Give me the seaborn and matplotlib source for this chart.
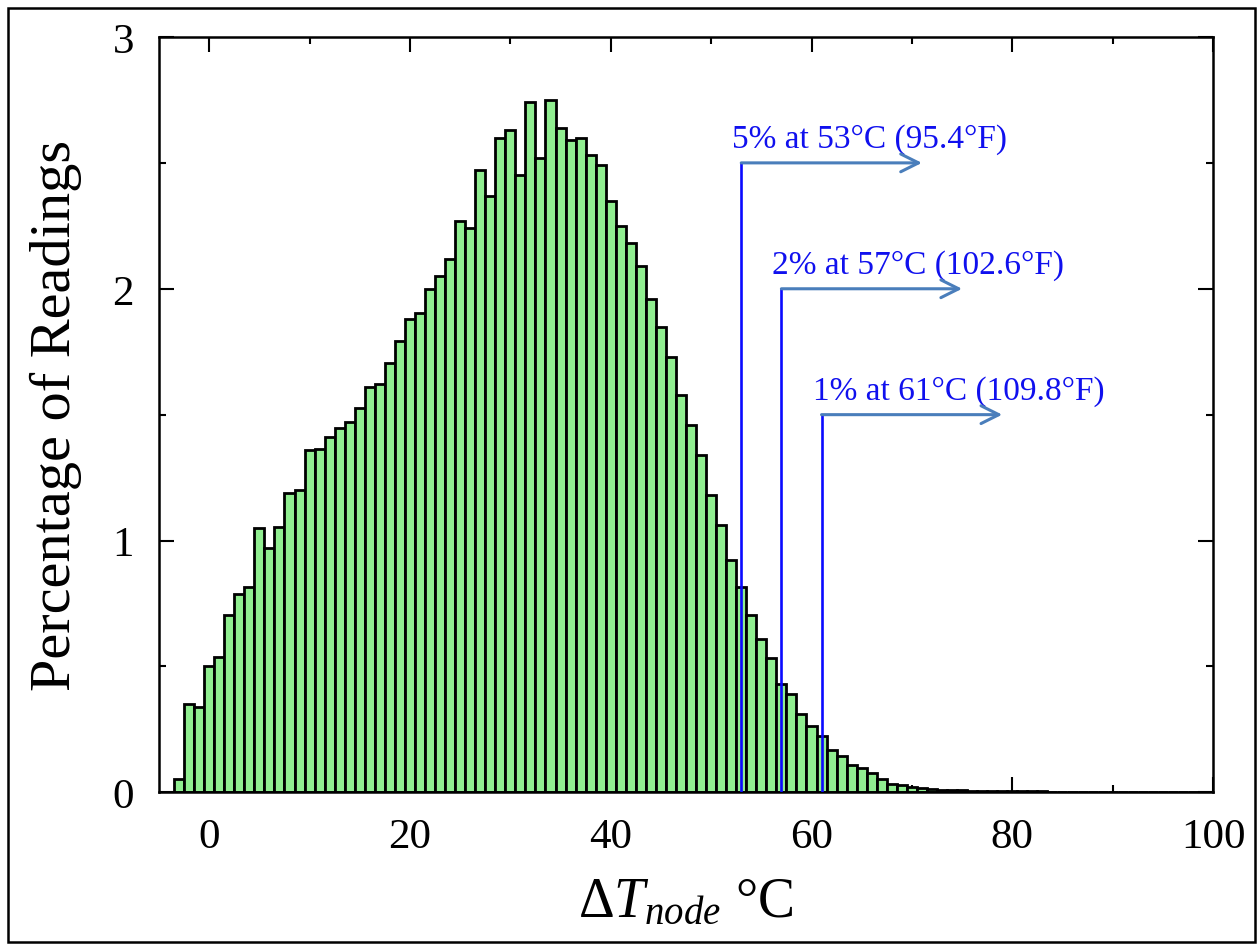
import matplotlib

matplotlib.use("Agg")
import matplotlib.pyplot as plt
import pandas as pd
import seaborn as sns
from matplotlib.patches import Rectangle
from matplotlib.ticker import MultipleLocator

# bin centres (degC) and percentage of readings per 1 degC bin
bin_centers = list(range(-3, 100))
percentages = [
  0.053, 0.35, 0.34, 0.50, 0.536, 0.704, 0.787, 0.817, 1.048, 0.972,
  1.052, 1.188, 1.20, 1.36, 1.365, 1.41, 1.448, 1.47, 1.528, 1.61,
  1.623, 1.706, 1.792, 1.878, 1.902, 2.0, 2.05, 2.12, 2.27, 2.24,
  2.473, 2.367, 2.60, 2.63, 2.45, 2.74, 2.52, 2.75, 2.64, 2.59,
  2.60, 2.53, 2.49, 2.35, 2.25, 2.18, 2.09, 1.96, 1.85, 1.73,
  1.58, 1.46, 1.34, 1.18, 1.06, 0.922, 0.815, 0.703, 0.608, 0.533,
  0.43, 0.39, 0.31, 0.264, 0.225, 0.168, 0.145, 0.11, 0.095, 0.076,
  0.052, 0.035, 0.029, 0.023, 0.017, 0.013, 0.011, 0.009, 0.008, 0.007,
  0.006, 0.006, 0.005, 0.005, 0.004, 0.004, 0.004, 0.003, 0.003, 0.003,
  0.003, 0.002, 0.002, 0.002, 0.002, 0.002, 0.002, 0.002, 0.001, 0.001,
  0.002, 0.001, 0.001,
]

# percentile markers: temperature, height of the marker, label
marker_temps = [53, 57, 61]
marker_heights = [2.5, 2.0, 1.5]
marker_labels = [
  "5% at 53°C (95.4°F)",
  "2% at 57°C (102.6°F)",
  "1% at 61°C (109.8°F)",
]
arrow_length = 18


def main() -> None:
  sns.set_style("ticks")
  plt.rcParams["font.family"] = ["Liberation Serif", "DejaVu Serif"]
  plt.rcParams["mathtext.fontset"] = "custom"
  plt.rcParams["mathtext.rm"] = "Liberation Serif"
  plt.rcParams["mathtext.it"] = "Liberation Serif:italic"
  plt.rcParams["text.color"] = "black"
  plt.rcParams["axes.labelcolor"] = "black"

  df = pd.DataFrame({"temp": bin_centers, "pct": percentages})

  fig = plt.figure(figsize=(12.59, 9.45), dpi=100)
  ax = fig.add_axes([0.1263, 0.1605, 0.8372, 0.7993])

  sns.histplot(
    data=df,
    x="temp",
    weights="pct",
    binwidth=1,
    binrange=(df["temp"].min() - 0.5, df["temp"].max() + 0.5),
    color="#90ee90",
    edgecolor="black",
    linewidth=2.0,
    alpha=1.0,
    ax=ax,
  )

  for temp, height, label in zip(marker_temps, marker_heights, marker_labels):
    ax.plot([temp, temp], [0, height], color="#0a0aff", lw=1.9, zorder=4)
    ax.annotate(
      "",
      xy=(temp + arrow_length, height),
      xytext=(temp, height),
      arrowprops=dict(
        arrowstyle="->", color="#4a7ebb", lw=2.2, mutation_scale=32,
        shrinkA=0, shrinkB=0,
      ),
      zorder=4,
    )
    ax.text(temp - 0.9, height + 0.035, label, color="#1010ee",
            fontsize=24, ha="left", va="bottom")

  ax.set_xlim(-5, 100)
  ax.set_ylim(0, 3)
  ax.xaxis.set_major_locator(MultipleLocator(20))
  ax.xaxis.set_minor_locator(MultipleLocator(10))
  ax.yaxis.set_major_locator(MultipleLocator(1))
  ax.yaxis.set_minor_locator(MultipleLocator(0.5))
  ax.tick_params(which="both", direction="in", top=True, right=True,
                 width=1.5, colors="black", labelcolor="black")
  ax.tick_params(which="major", length=11, labelsize=31, pad=18)
  ax.tick_params(which="minor", length=5)
  for spine in ax.spines.values():
    spine.set_linewidth(1.8)
    spine.set_color("black")

  ax.set_ylabel("Percentage of Readings", fontsize=42, labelpad=22)
  ax.set_xlabel("Δ$T_{node}$ °C", fontsize=40, labelpad=15)

  fig.patches.append(
    Rectangle((8 / 1259, 2 / 945), 1247 / 1259, 934 / 945, transform=fig.transFigure,
              fill=False, edgecolor="black", lw=1.8)
  )

  fig.savefig("out.png", dpi=100)
  plt.close(fig)


main()
